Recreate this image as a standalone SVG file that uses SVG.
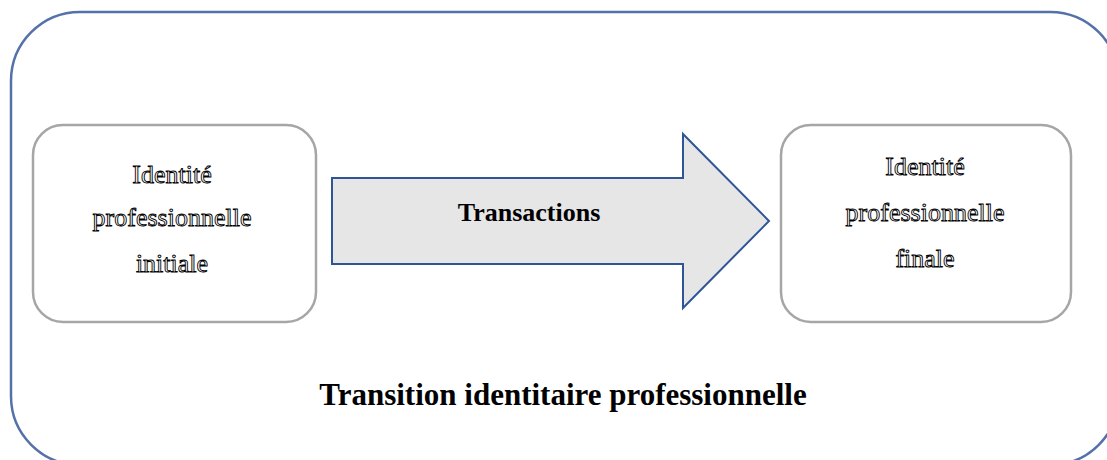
<svg xmlns="http://www.w3.org/2000/svg" width="1107" height="460" viewBox="0 0 1107 460">
  <style>
    .frame { fill: none; stroke: #5571aa; stroke-width: 2.5; }
    .box { fill: #ffffff; stroke: #a6a6a6; stroke-width: 2.5; }
    .arrow { fill: #e6e6e6; stroke: #2f5597; stroke-width: 2; stroke-linejoin: miter; }
    .outline { font-family: "Liberation Serif", "Times New Roman", serif; font-size: 26px; fill: #ffffff; stroke: #000000; stroke-width: 0.9; text-anchor: middle; }
    .bold { font-family: "Liberation Serif", "Times New Roman", serif; font-weight: bold; fill: #000000; text-anchor: middle; }
  </style>
  <rect width="1107" height="460" fill="#ffffff"/>

  <!-- outer frame, running off the right and bottom edges -->
  <rect id="frame" class="frame" x="11" y="12" width="1108" height="453" rx="69" ry="69"/>

  <g id="node-initiale">
    <rect class="box" x="33" y="125" width="283" height="197" rx="30" ry="30"/>
    <text class="outline" x="172" y="183">Identité</text>
    <text class="outline" x="172" y="226">professionnelle</text>
    <text class="outline" x="172" y="272">initiale</text>
  </g>

  <g id="node-finale">
    <rect class="box" x="781" y="125" width="290" height="197" rx="30" ry="30"/>
    <text class="outline" x="925" y="175">Identité</text>
    <text class="outline" x="925" y="221">professionnelle</text>
    <text class="outline" x="925" y="267">finale</text>
  </g>

  <g id="connectors">
    <polygon class="arrow" points="332,178 683,178 683,134 769,221 683,308 683,264 332,264"/>
    <text class="bold" x="529" y="221" font-size="26">Transactions</text>
  </g>

  <text id="title" class="bold" x="563" y="405" font-size="31">Transition identitaire professionnelle</text>
</svg>
